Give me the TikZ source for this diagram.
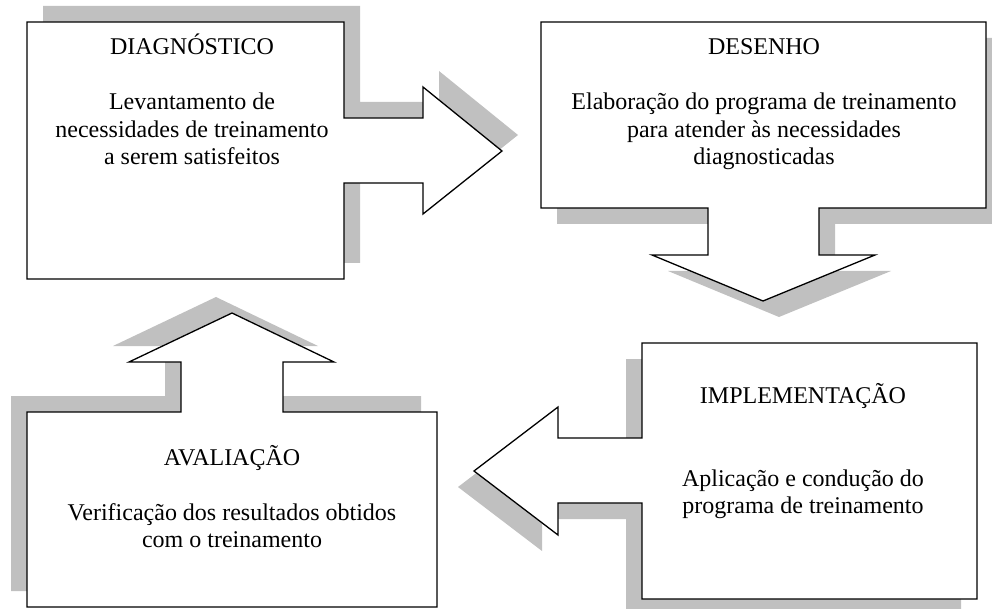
\documentclass[tikz,border=0pt]{standalone}
\usepackage{fontspec}
\setmainfont{Liberation Serif}
\begin{document}
\begin{tikzpicture}[x=1pt,y=-1pt,
  shadowfill/.style={fill=shadowgray,draw=none},
  shapebox/.style={fill=white,draw=black,line width=1.3pt,line join=miter},
  txt/.style={anchor=base,inner sep=0pt,font=\fontsize{24}{27.5}\selectfont}]
\definecolor{shadowgray}{HTML}{C0C0C0}
\useasboundingbox (0,0) rectangle (992,609);
% Shape 1: DIAGNOSTICO (right arrow)
\path[shadowfill,shift={(16,-16)}] (27,22) -- (344,22) -- (344,118) -- (423,118) -- (423,87) -- (502,151) -- (423,214) -- (423,183) -- (344,183) -- (344,279) -- (27,279) -- cycle;
\path[shapebox] (27,22) -- (344,22) -- (344,118) -- (423,118) -- (423,87) -- (502,151) -- (423,214) -- (423,183) -- (344,183) -- (344,279) -- (27,279) -- cycle;
% Shape 2: DESENHO (down arrow)
\path[shadowfill,shift={(16,16)}] (541,22) -- (986,22) -- (986,208) -- (819,208) -- (819,255) -- (875,255) -- (763,301) -- (652,255) -- (708,255) -- (708,208) -- (541,208) -- cycle;
\path[shapebox] (541,22) -- (986,22) -- (986,208) -- (819,208) -- (819,255) -- (875,255) -- (763,301) -- (652,255) -- (708,255) -- (708,208) -- (541,208) -- cycle;
% Shape 3: IMPLEMENTACAO (left arrow)
\path[shadowfill,shift={(-16,16)}] (642,343) -- (977,343) -- (977,599) -- (642,599) -- (642,503) -- (558,503) -- (558,535) -- (474,471) -- (558,407) -- (558,438) -- (642,438) -- cycle;
\path[shapebox] (642,343) -- (977,343) -- (977,599) -- (642,599) -- (642,503) -- (558,503) -- (558,535) -- (474,471) -- (558,407) -- (558,438) -- (642,438) -- cycle;
% Shape 4: AVALIACAO (up arrow)
\path[shadowfill,shift={(-16,-16)}] (27,412) -- (181,412) -- (181,362) -- (129,362) -- (232,313) -- (334,362) -- (283,362) -- (283,412) -- (437,412) -- (437,607) -- (27,607) -- cycle;
\path[shapebox] (27,412) -- (181,412) -- (181,362) -- (129,362) -- (232,313) -- (334,362) -- (283,362) -- (283,412) -- (437,412) -- (437,607) -- (27,607) -- cycle;
% Texts
\node[txt] (t1) at (192,55) {DIAGNÓSTICO};
\node[txt] (t1a) at (192,110) {Levantamento de};
\node[txt] (t1b) at (192,137.5) {necessidades de treinamento};
\node[txt] (t1c) at (192,165) {a serem satisfeitos};
\node[txt] (t2) at (764,55) {DESENHO};
\node[txt] (t2a) at (764,110) {Elaboração do programa de treinamento};
\node[txt] (t2b) at (764,137.5) {para atender às necessidades};
\node[txt] (t2c) at (764,165) {diagnosticadas};
\node[txt] (t3) at (803,403) {IMPLEMENTAÇÃO};
\node[txt] (t3a) at (803,486) {Aplicação e condução do};
\node[txt] (t3b) at (803,513) {programa de treinamento};
\node[txt] (t4) at (232,465) {AVALIAÇÃO};
\node[txt] (t4a) at (232,520) {Verificação dos resultados obtidos};
\node[txt] (t4b) at (232,547) {com o treinamento};
\end{tikzpicture}
\end{document}
